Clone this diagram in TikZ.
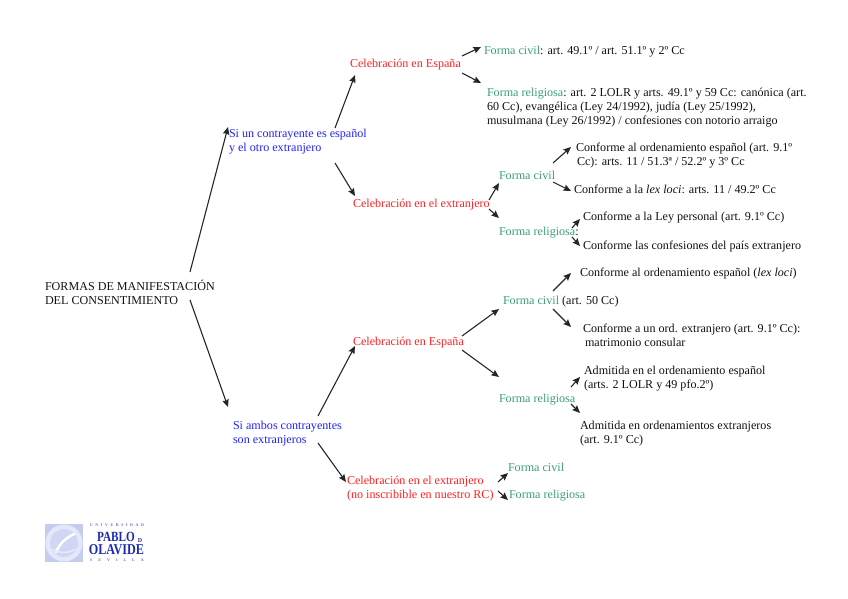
\documentclass[tikz,border=0pt]{standalone}
\usepackage{fontspec}
\usepackage{graphicx}
\setmainfont{Liberation Serif}
\usetikzlibrary{arrows.meta}
\definecolor{cred}{HTML}{FF2222}
\definecolor{cblue}{HTML}{2222FF}
\definecolor{cgreen}{HTML}{3AA070}
\definecolor{ctext}{HTML}{111111}
\definecolor{logoblue}{HTML}{1A2AB0}
\definecolor{seal}{HTML}{C4CCF0}
\begin{document}
\begin{tikzpicture}[x=1pt,y=-1pt,
  lab/.style={anchor=west,inner sep=0pt,outer sep=0pt,align=left,text=ctext,
    font=\fontsize{12.1}{14}\selectfont,text height=9pt,text depth=0pt},
  two/.style={text height=23pt},
  three/.style={text height=37pt},
  redl/.style={lab,text=cred},
  bluel/.style={lab,text=cblue},
  greenl/.style={lab,text=cgreen},
  logot/.style={inner sep=0pt,text=logoblue,font=\fontsize{#1}{#1}\selectfont\bfseries},
  arr/.style={-{Stealth[length=7.5pt,width=6.5pt,inset=1pt]},line width=1.1pt,color=black!85}]
\useasboundingbox (0,0) rectangle (848,599);
\node[lab,two] (root) at (45,293) {FORMAS DE MANIFESTACIÓN\\DEL CONSENTIMIENTO};
\node[bluel,two] (siun) at (229,140) {Si un contrayente es español\\y el otro extranjero};
\node[bluel,two] (siambos) at (233,432) {Si ambos contrayentes\\son extranjeros};
\node[redl] (ce1) at (350,63) {Celebración en España};
\node[redl] (ce2) at (353,203) {Celebración en el extranjero};
\node[redl] (ce3) at (353,341) {Celebración en España};
\node[redl,two] (ce4) at (347,487) {Celebración en el extranjero\\(no inscribible en nuestro RC)};
\node[lab] (fc1) at (484,50) {\textcolor{cgreen}{Forma civil}: art. 49.1º / art. 51.1º y 2º Cc};
\node[lab,three] (fr1) at (487,106) {\textcolor{cgreen}{Forma religiosa}: art. 2 LOLR y arts. 49.1º y 59 Cc: canónica (art.\\60 Cc), evangélica (Ley 24/1992), judía (Ley 25/1992),\\musulmana (Ley 26/1992) / confesiones con notorio arraigo};
\node[greenl] (fc2) at (499,175) {Forma civil};
\node[lab] (fr2) at (499,231) {\textcolor{cgreen}{Forma religiosa}:};
\node[lab] (fc3) at (503,300) {\textcolor{cgreen}{Forma civil} (art. 50 Cc)};
\node[greenl] (fr3) at (499,398) {Forma religiosa};
\node[greenl] (fc4) at (508,467) {Forma civil};
\node[greenl] (fr4) at (509,494) {Forma religiosa};
\node[lab,two] (a1) at (576,154) {Conforme al ordenamiento español (art. 9.1º\\\hspace*{1pt}Cc): arts. 11 / 51.3ª / 52.2º y 3º Cc};
\node[lab] (a2) at (574,189) {Conforme a la \textit{lex loci}: arts. 11 / 49.2º Cc};
\node[lab] (a3) at (583,216) {Conforme a la Ley personal (art. 9.1º Cc)};
\node[lab] (a4) at (583,245) {Conforme las confesiones del país extranjero};
\node[lab] (b1) at (580,272) {Conforme al ordenamiento español (\textit{lex loci})};
\node[lab,two] (b2) at (583,334.5) {Conforme a un ord. extranjero (art. 9.1º Cc):\\\hspace*{2pt}matrimonio consular};
\node[lab,two] (b3) at (584,376.5) {Admitida en el ordenamiento español\\(arts. 2 LOLR y 49 pfo.2º)};
\node[lab,two] (b4) at (580,432) {Admitida en ordenamientos extranjeros\\(art. 9.1º Cc)};
\draw[arr] ([shift={(145,-21)}]root.west) -- ([shift={(-1,-13)}]siun.west);
\draw[arr] ([shift={(145,7)}]root.west) -- ([shift={(-5,-25)}]siambos.west);
\draw[arr] ([shift={(106,-12)}]siun.west) -- ([shift={(5,12)}]ce1.west);
\draw[arr] ([shift={(106,23)}]siun.west) -- ([shift={(2,-7)}]ce2.west);
\draw[arr] ([shift={(85,-16)}]siambos.west) -- ([shift={(2,5)}]ce3.west);
\draw[arr] ([shift={(85,11)}]siambos.west) -- ([shift={(-1,-5)}]ce4.west);
\draw[arr] ([shift={(112,-7)}]ce1.west) -- ([shift={(-3,-3)}]fc1.west);
\draw[arr] ([shift={(112,10)}]ce1.west) -- ([shift={(-6,-23)}]fr1.west);
\draw[arr] ([shift={(136,-3)}]ce2.west) -- ([shift={(0,8)}]fc2.west);
\draw[arr] ([shift={(136,6)}]ce2.west) -- ([shift={(0,-13)}]fr2.west);
\draw[arr] ([shift={(54,-12)}]fc2.west) -- ([shift={(-5,-7)}]a1.west);
\draw[arr] ([shift={(54,7)}]fc2.west) -- ([shift={(-3,2)}]a2.west);
\draw[arr] ([shift={(73,-3)}]fr2.west) -- ([shift={(-3,3)}]a3.west);
\draw[arr] ([shift={(73,6)}]fr2.west) -- ([shift={(-3,1)}]a4.west);
\draw[arr] ([shift={(109,-5)}]ce3.west) -- ([shift={(-4,9)}]fc3.west);
\draw[arr] ([shift={(109,9)}]ce3.west) -- ([shift={(0,-21)}]fr3.west);
\draw[arr] ([shift={(50,-9)}]fc3.west) -- ([shift={(-9,1)}]b1.west);
\draw[arr] ([shift={(50,9)}]fc3.west) -- ([shift={(-12,-7.5)}]b2.west);
\draw[arr] ([shift={(72,-11)}]fr3.west) -- ([shift={(-4,0.5)}]b3.west);
\draw[arr] ([shift={(72,6)}]fr3.west) -- ([shift={(0,-19)}]b4.west);
\draw[arr] ([shift={(151,-5)}]ce4.west) -- ([shift={(0,6)}]fc4.west);
\draw[arr] ([shift={(151,4)}]ce4.west) -- ([shift={(-1,6)}]fr4.west);
% logo
\fill[seal] (45,524) rectangle (83,562);
\fill[seal!45!white] (64,543) circle (18.5);
\fill[seal!80!white] (64,543) circle (14);
\draw[white,line width=2.5pt,line cap=round] (56,552) .. controls (60,543) and (66,538) .. (74,534);
\draw[seal!40!white,line width=1.5pt] (52,549) .. controls (58,553) and (68,554) .. (76,549);
\node[logot=4,text=logoblue!70!white] (lu) at (117,525.5) {U\hspace{2.6pt}N\hspace{2.6pt}I\hspace{2.6pt}V\hspace{2.6pt}E\hspace{2.6pt}R\hspace{2.6pt}S\hspace{2.6pt}I\hspace{2.6pt}D\hspace{2.6pt}A\hspace{2.6pt}D};
\node[logot=14] (lp) at (116,536.5) {\scalebox{.8}[1]{PABLO}};
\node[logot=6] (ld) at (140,540.5) {D};
\node[logot=15] (lo) at (116.5,550) {\scalebox{.81}[1]{OLAVIDE}};
\node[logot=4,text=logoblue!70!white] (ls) at (117,560.5) {S\hspace{6pt}E\hspace{6pt}V\hspace{6pt}I\hspace{6pt}L\hspace{6pt}L\hspace{6pt}A};
\end{tikzpicture}
\end{document}
